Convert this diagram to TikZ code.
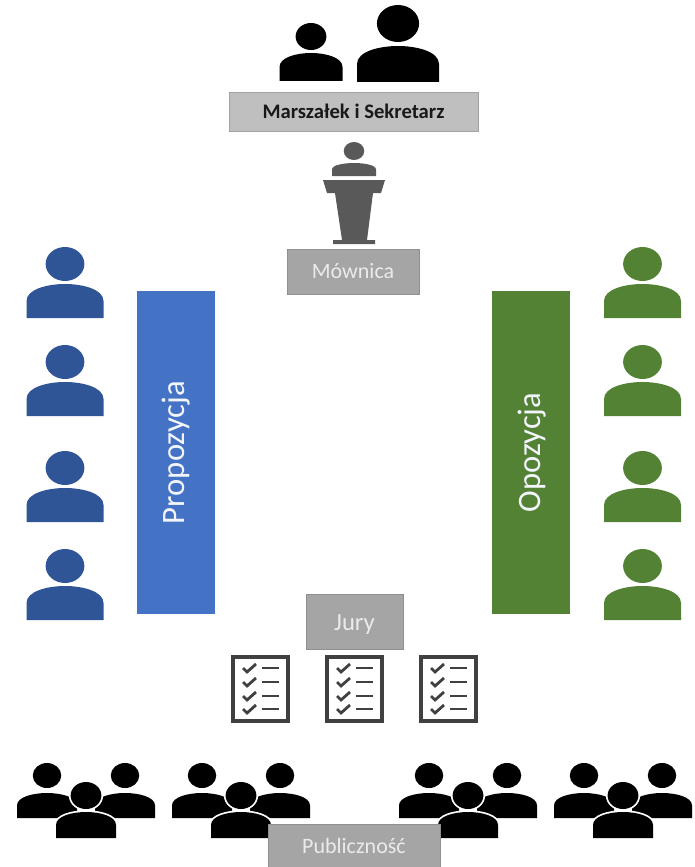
\documentclass[tikz,border=0pt]{standalone}
\usepackage{fontspec}
\setmainfont{Carlito}
\definecolor{boxlight}{HTML}{BFBFBF}
\definecolor{boxgrey}{HTML}{A5A5A5}
\definecolor{boxedge}{HTML}{8F8F8F}
\definecolor{propblue}{HTML}{4472C4}
\definecolor{oppgreen}{HTML}{548235}
\definecolor{peopleblue}{HTML}{2F5597}
\definecolor{podium}{HTML}{595959}
\definecolor{sheet}{HTML}{404040}
\tikzset{
  plate/.style={rectangle,inner sep=0pt,line width=.6pt,draw=boxedge,fill=boxgrey,text=white!92!black,font=\fontsize{16.5}{20}\selectfont},
  lightplate/.style={plate,fill=boxlight,draw=boxlight!85!black,text=black!90,font=\fontsize{15.5}{18}\selectfont\bfseries},
  sideplate/.style={rectangle,inner sep=0pt,rotate=90,minimum width=242.25pt,minimum height=58.5pt,text=white!93!propblue,font=\fontsize{24.5}{29}\selectfont},
  halo/.style={white,draw=white,line width=2.6pt},
}
% text set with its baseline a given distance under the centre of its box
\newcommand{\lowered}[2]{\raisebox{-#1}[0pt][0pt]{#2}}
% centre x, body width, head top, head bottom, body top, body bottom, fill colour
\newcommand{\personicon}[7]{%
  \pgfmathsetmacro{\pcx}{#1}\pgfmathsetmacro{\phw}{(#2)/2}%
  \pgfmathsetmacro{\pht}{#3}\pgfmathsetmacro{\phb}{#4}%
  \pgfmathsetmacro{\pbt}{#5}\pgfmathsetmacro{\pbb}{#6}%
  \fill[#7] (\pcx,{(\pht+\phb)/2}) ellipse [x radius={(\phb-\pht)*.57}, y radius={(\phb-\pht)/2}];
  \fill[#7] ({\pcx-\phw},\pbb) -- ({\pcx-\phw},{\pbb-(\pbb-\pbt)*.5})
    .. controls ({\pcx-\phw},{\pbt+(\pbb-\pbt)*.15}) and ({\pcx-\phw*.45},\pbt) .. (\pcx,\pbt)
    .. controls ({\pcx+\phw*.45},\pbt) and ({\pcx+\phw},{\pbt+(\pbb-\pbt)*.15}) .. ({\pcx+\phw},{\pbb-(\pbb-\pbt)*.5})
    -- ({\pcx+\phw},\pbb) -- cycle;
}
% audience of three, left edge x
\newcommand{\audience}[1]{%
  \personicon{#1+30}{60}{763}{788}{793}{818}{black}
  \personicon{#1+108}{60}{763}{788}{793}{818}{black}
  \personicon{#1+69}{60}{782}{809}{812}{838}{halo}
  \personicon{#1+69}{60}{782}{809}{812}{838}{black}
}
% checklist, left edge x
\newcommand{\checksheet}[1]{%
  \draw[sheet,line width=3.2pt,fill=white] ({#1+2},657) rectangle ({#1+57},721);
  \foreach \rowy in {668,682,696,709}{
    \draw[sheet,line width=2.1pt] ({#1+12},\rowy) -- ({#1+16},\rowy+4) -- ({#1+25},\rowy-4);
    \draw[sheet,line width=2pt] ({#1+31},\rowy) -- ({#1+48},\rowy);
  }
}
\begin{document}
\begin{tikzpicture}[x=.75pt,y=-.75pt]
\useasboundingbox (0,0) rectangle (694,867);
% presidium
\personicon{311}{63}{23}{50}{53}{81}{black}
\personicon{398}{82}{5}{42}{46}{82}{black}
\node[lightplate,minimum width=186.75pt,minimum height=29.25pt] (marshal) at (353.5,111.5) {Marszałek i Sekretarz};
% lectern
\personicon{354}{44}{142}{160}{163}{176}{podium}
\fill[podium] (323,180) -- (385,180) -- (381,193) -- (373,193) -- (367,240) -- (375,240) -- (375,244) -- (333,244) -- (333,240) -- (342,240) -- (335,193) -- (327,193) -- cycle;
\node[plate,minimum width=99pt,minimum height=33.75pt] (lectern) at (353,271.5) {\lowered{4.9pt}{Mównica}};
% sides
\node[sideplate,fill=propblue] (prop) at (176,452.5) {\lowered{6.2pt}{Propozycja}};
\node[sideplate,fill=oppgreen] (opp) at (531,452.5) {\lowered{6.8pt}{Opozycja}};
\foreach \t in {247,345,451,549}{
  \personicon{65}{77}{\t}{\t+34}{\t+37}{\t+71}{peopleblue}
  \personicon{642.5}{77}{\t}{\t+34}{\t+37}{\t+71}{oppgreen}
}
% jury
\node[plate,minimum width=72.75pt,minimum height=41.25pt,font=\fontsize{18.5}{22}\selectfont] (jury) at (354.5,621.5) {\lowered{6.4pt}{Jury}};
\checksheet{231}
\checksheet{325}
\checksheet{419}
% audience
\audience{17}
\audience{172}
\audience{399}
\audience{554}
\node[plate,minimum width=129pt,minimum height=32.25pt] (public) at (354,845.5) {Publiczność};
\end{tikzpicture}
\end{document}
